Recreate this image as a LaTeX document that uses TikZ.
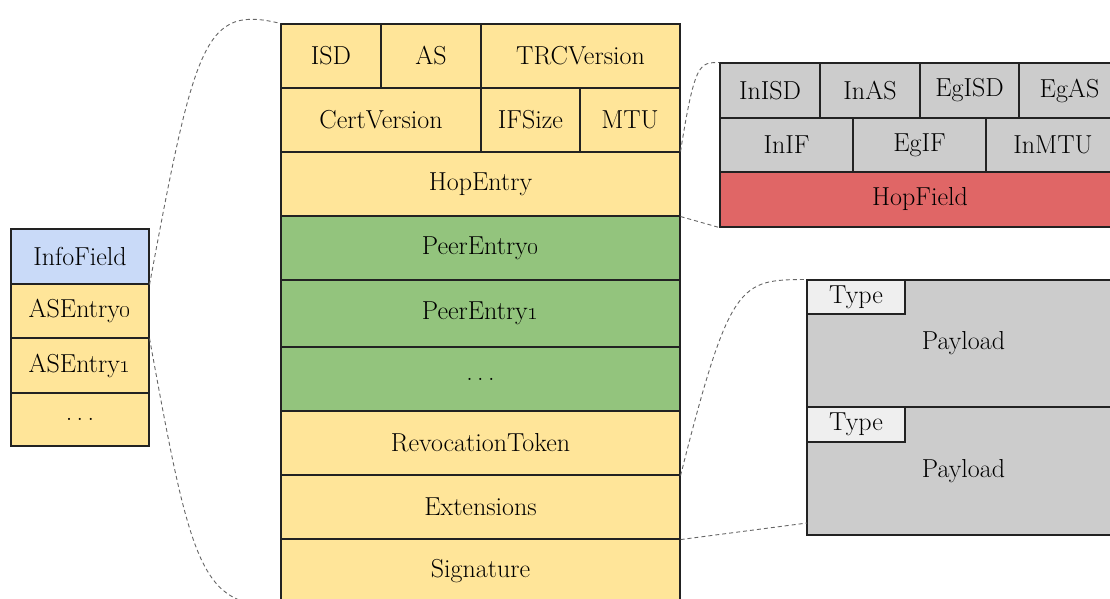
\documentclass[tikz,border=0pt]{standalone}
\definecolor{cyellow}{HTML}{FFE599}
\definecolor{cblue}{HTML}{C9DAF8}
\definecolor{cgreen}{HTML}{93C47D}
\definecolor{cgrey}{HTML}{CCCCCC}
\definecolor{cred}{HTML}{E06666}
\definecolor{clight}{HTML}{EFEFEF}
\definecolor{cline}{HTML}{222222}
\definecolor{cdash}{HTML}{666666}
\newcommand{\mycell}[7]{%
  \node[cell, fill=#6, minimum width={#4-#2}, minimum height={#5-#3}]
    (#1) at ({(#2+#4)/2},{(#3+#5)/2}) {#7};}
\begin{document}
\begin{tikzpicture}[x=1pt,y=-1pt,
  cell/.style={draw=cline, line width=1.1pt, inner sep=0pt, font=\fontsize{26}{30}\selectfont},
  link/.style={draw=cdash, line width=0.9pt, dash pattern=on 4pt off 3pt}]
\useasboundingbox (0,0) rectangle (1110,598);
\clip (0,0) rectangle (1110,598);
% left stack
\mycell{info}{11}{229}{149}{284}{cblue}{InfoField}
\mycell{ase0}{11}{284}{149}{338}{cyellow}{ASEntry\oldstylenums{0}}
\mycell{ase1}{11}{338}{149}{393}{cyellow}{ASEntry\oldstylenums{1}}
\mycell{asedots}{11}{393}{149}{446}{cyellow}{.\,.\,.}
% middle stack
\mycell{isd}{281}{24}{381}{88}{cyellow}{ISD}
\mycell{as}{381}{24}{481}{88}{cyellow}{AS}
\mycell{trc}{481}{24}{680}{88}{cyellow}{TRCVersion}
\mycell{cert}{281}{88}{481}{152}{cyellow}{CertVersion}
\mycell{ifsize}{481}{88}{580}{152}{cyellow}{IFSize}
\mycell{mtu}{580}{88}{680}{152}{cyellow}{MTU}
\mycell{hop}{281}{152}{680}{216}{cyellow}{HopEntry}
\mycell{peer0}{281}{216}{680}{280}{cgreen}{PeerEntry\oldstylenums{0}}
\mycell{peer1}{281}{280}{680}{347}{cgreen}{PeerEntry\oldstylenums{1}}
\mycell{peerdots}{281}{347}{680}{411}{cgreen}{.\,.\,.}
\mycell{rev}{281}{411}{680}{475}{cyellow}{RevocationToken}
\mycell{ext}{281}{475}{680}{539}{cyellow}{Extensions}
\mycell{sig}{281}{539}{680}{604}{cyellow}{Signature}
% hop field block
\mycell{inisd}{720}{63}{820}{118}{cgrey}{InISD}
\mycell{inas}{820}{63}{920}{118}{cgrey}{InAS}
\mycell{egisd}{920}{63}{1019}{118}{cgrey}{EgISD}
\mycell{egas}{1019}{63}{1120}{118}{cgrey}{EgAS}
\mycell{inif}{720}{118}{853}{172}{cgrey}{InIF}
\mycell{egif}{853}{118}{986}{172}{cgrey}{EgIF}
\mycell{inmtu}{986}{118}{1120}{172}{cgrey}{InMTU}
\mycell{hopfield}{720}{172}{1120}{227}{cred}{HopField}
% extension block
\mycell{pay1}{807}{280}{1120}{407}{cgrey}{Payload}
\mycell{pay2}{807}{407}{1120}{535}{cgrey}{Payload}
\mycell{type1}{807}{280}{905}{314}{clight}{Type}
\mycell{type2}{807}{407}{905}{442}{clight}{Type}
\coordinate (extlow) at (807,523);
% dashed connectors
\draw[link] (info.south east) .. controls (195,40) and (205,5) .. (isd.north west);
\draw[link] (ase0.south east) .. controls (190,560) and (200,610) .. (sig.south west);
\draw[link] (hop.north east) .. controls (695,60) and (700,63) .. (inisd.north west);
\draw[link] (hop.south east) -- (hopfield.south west);
\draw[link] (rev.south east) .. controls (730,280) and (740,280) .. (type1.north west);
\draw[link] (ext.south east) -- (extlow);
\end{tikzpicture}
\end{document}
